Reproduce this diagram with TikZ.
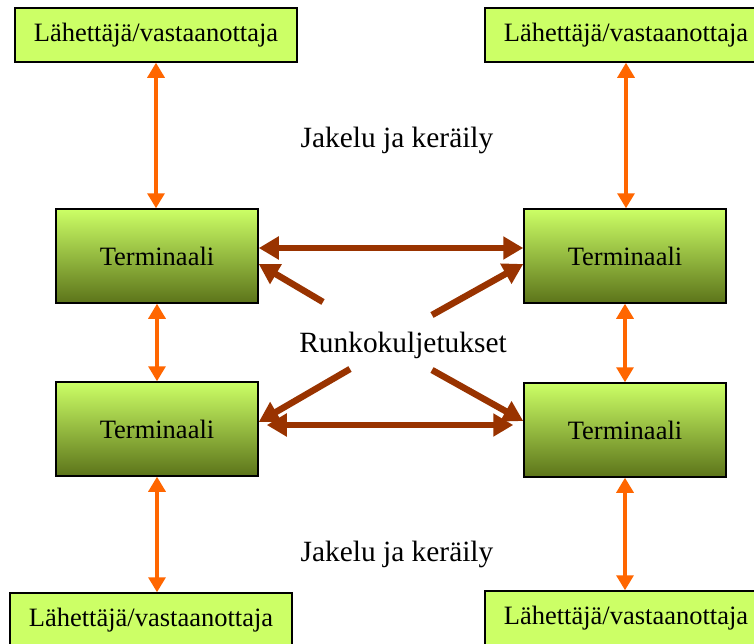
\documentclass[tikz,border=0pt]{standalone}
\usepackage{fontspec}
\setmainfont{Liberation Serif}
\usetikzlibrary{arrows.meta,calc}
\definecolor{boxgreen}{RGB}{204,255,102}
\definecolor{midgreen}{RGB}{172,214,86}
\definecolor{darkolive}{RGB}{92,116,26}
\definecolor{feeder}{RGB}{255,102,0}
\definecolor{trunk}{RGB}{153,51,0}
\begin{document}
\begin{tikzpicture}[x=1pt,y=-1pt,
  every node/.style={font=\fontsize{26.5}{30}\selectfont},
  caption/.style={anchor=base, font=\fontsize{29.4}{33}\selectfont},
  party/.style={draw=black, line width=1.5pt, fill=boxgreen,
    minimum width=282pt, minimum height=54pt, inner sep=0pt},
  terminal/.style={draw=black, line width=1.5pt, top color=boxgreen,
    middle color=midgreen, bottom color=darkolive,
    minimum width=202pt, minimum height=94pt, inner sep=0pt},
  feed/.style={draw=feeder, line width=3.2pt,
    {Triangle[length=15pt,width=17pt]}-{Triangle[length=15pt,width=17pt]}},
  haul/.style={draw=trunk, line width=6.5pt, -{Triangle[length=20pt,width=22pt]}},
  haulboth/.style={draw=trunk, line width=6.5pt,
    {Triangle[length=20pt,width=22pt]}-{Triangle[length=20pt,width=22pt]}},
]
\useasboundingbox (0,0) rectangle (754,643);

% senders / receivers
\node[party] (s1) at (156,35) {Lähettäjä/vastaanottaja};
\node[party] (s2) at (626,35) {Lähettäjä/vastaanottaja};
\node[party] (s3) at (151,620) {Lähettäjä/vastaanottaja};
\node[party] (s4) at (626,618) {Lähettäjä/vastaanottaja};

% terminals
\node[terminal] (t1) at (157,256) {Terminaali};
\node[terminal] (t2) at (625,256) {Terminaali};
\node[terminal] (t3) at (157,429) {Terminaali};
\node[terminal] (t4) at (625,430) {Terminaali};

% labels
\node[caption] (j1) at (397,147) {Jakelu ja keräily};
\node[caption] (rk) at (403,352) {Runkokuljetukset};
\node[caption] (j2) at (397,561) {Jakelu ja keräily};

% distribution and collection
\draw[feed] (s1.south) -- (s1.south |- t1.north);
\draw[feed] (s2.south) -- (s2.south |- t2.north);
\draw[feed] (t1.south) -- (t3.north);
\draw[feed] (t2.south) -- (t4.north);
\draw[feed] (t3.south) -- (t3.south |- s3.north);
\draw[feed] (t4.south) -- (t4.south |- s4.north);

% trunk haulage
\coordinate (r1) at (323,302);
\coordinate (r2) at (432,315);
\coordinate (r3) at (350,369);
\coordinate (r4) at (432,370);
\draw[haulboth] ($(t1.east)+(0,-8)$) -- ($(t2.west)+(0,-8)$);
\draw[haul] (r1) -- ($(t1.east)+(0,8)$);
\draw[haul] (r2) -- ($(t2.west)+(0,8)$);
\draw[haul] (r3) -- ($(t3.east)+(0,-7)$);
\draw[haul] (r4) -- ($(t4.west)+(0,-9)$);
\draw[haulboth] ($(t3.east)+(8,-4)$) -- ($(t4.west)+(-10,-5)$);
\end{tikzpicture}
\end{document}
